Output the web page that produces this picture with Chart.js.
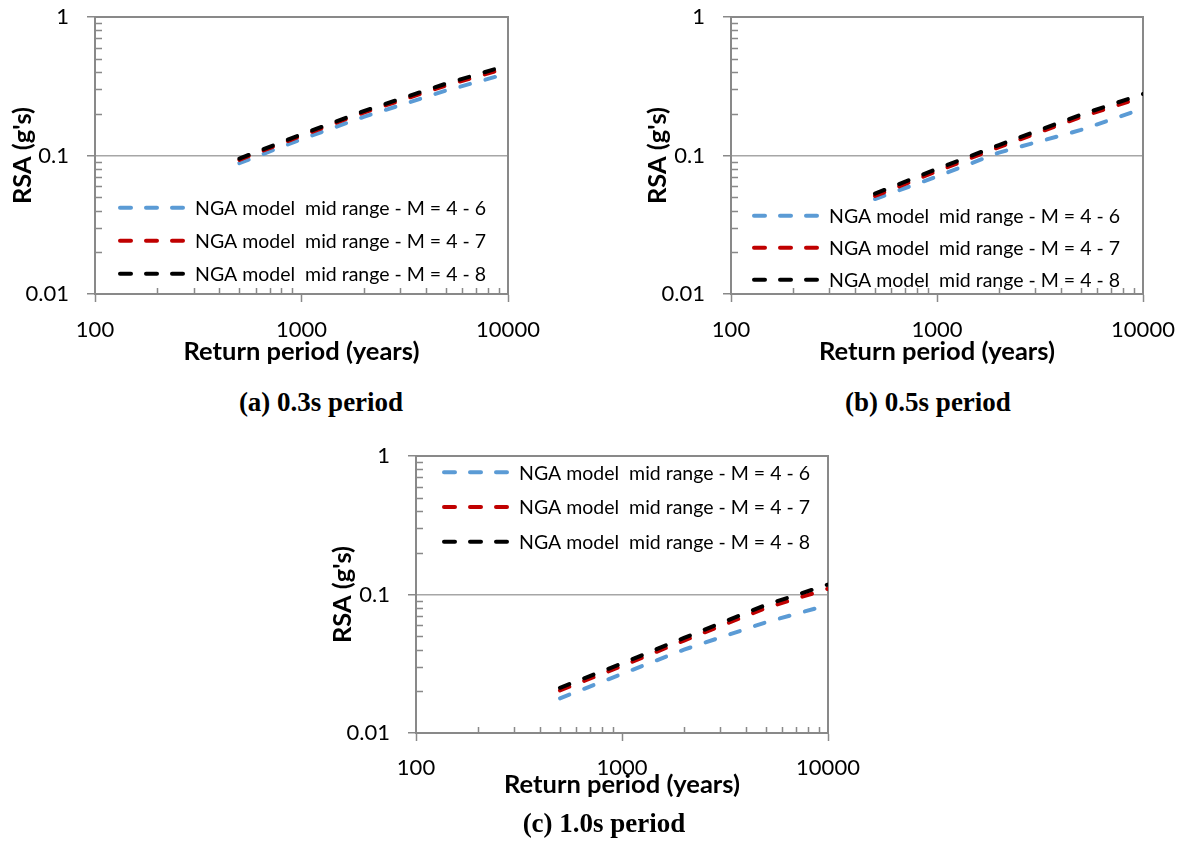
<!DOCTYPE html>
<html>
<head>
<meta charset="utf-8">
<script src="https://cdn.jsdelivr.net/npm/chart.js@4.4.1/dist/chart.umd.min.js"></script>
<style>
  body { margin: 0; background: #fff; width: 1187px; height: 843px; position: relative; overflow: hidden; }
  canvas { position: absolute; }
  .cap { position: absolute; font: bold 27px "Liberation Serif", "Times New Roman", serif; transform: translate(-50%, -50%); white-space: nowrap; }
</style>
</head>
<body>
<canvas id="chartA" width="540" height="370" style="left:0px;top:0px"></canvas>
<canvas id="chartB" width="551" height="370" style="left:636px;top:0px"></canvas>
<canvas id="chartC" width="540" height="370" style="left:321px;top:439px"></canvas>
<div class="cap" style="left:321px;top:402px">(a) 0.3s period</div>
<div class="cap" style="left:928px;top:402px">(b) 0.5s period</div>
<div class="cap" style="left:604px;top:823px">(c) 1.0s period</div>
<script>
// Return periods (years) shared by all three panels
const returnPeriods = [500, 1000, 2000, 5000, 10000];

const seriesLabels = [
  'NGA model  mid range - M = 4 - 6',
  'NGA model  mid range - M = 4 - 7',
  'NGA model  mid range - M = 4 - 8'
];
const seriesColors = ['#5B9BD5', '#C00000', '#000000'];

// (a) 0.3s period, RSA in g's
const rsa03_M6 = [0.088, 0.131, 0.190, 0.294, 0.392];
const rsa03_M7 = [0.093, 0.139, 0.204, 0.320, 0.430];
const rsa03_M8 = [0.095, 0.142, 0.209, 0.330, 0.448];

// (b) 0.5s period
const rsa05_M6 = [0.0485, 0.0705, 0.105, 0.153, 0.218];
const rsa05_M7 = [0.051, 0.077, 0.115, 0.190, 0.264];
const rsa05_M8 = [0.053, 0.080, 0.119, 0.197, 0.278];

// (c) 1.0s period
const rsa10_M6 = [0.0178, 0.0267, 0.040, 0.063, 0.084];
const rsa10_M7 = [0.0203, 0.0305, 0.0465, 0.080, 0.110];
const rsa10_M8 = [0.0212, 0.0318, 0.0486, 0.0841, 0.118];

// tick labels
const xTicks = [100, 1000, 10000];
const yTicks = [0.01, 0.1, 1];

const axisGray = '#898989';
const labelFont = { family: 'Lato', size: 22 };
const titleFont = { family: 'Lato', size: 25.5, weight: 'bold' };

// minor ticks (inside), top/right frame, and the in-plot legend
const plotExtras = {
  id: 'plotExtras',
  beforeDatasetsDraw(chart) {
    const { ctx, chartArea: a, scales: { x, y } } = chart;
    ctx.save();
    ctx.strokeStyle = axisGray;
    ctx.lineWidth = 1.5;
    ctx.beginPath();
    xTicks.slice(0, -1).forEach(d => {
      for (let k = 2; k <= 9; k++) {
        const px = Math.round(x.getPixelForValue(d * k)) + 0.5;
        ctx.moveTo(px, a.bottom);
        ctx.lineTo(px, a.bottom - 6);
      }
    });
    yTicks.slice(0, -1).forEach(d => {
      for (let k = 2; k <= 9; k++) {
        const py = Math.round(y.getPixelForValue(d * k)) + 0.5;
        ctx.moveTo(a.left, py);
        ctx.lineTo(a.left + 7, py);
      }
    });
    ctx.stroke();
    ctx.lineWidth = 2;
    ctx.beginPath();
    ctx.moveTo(a.left, a.top);
    ctx.lineTo(a.right, a.top);
    ctx.lineTo(a.right, a.bottom);
    ctx.stroke();
    ctx.restore();
  },
  afterDatasetsDraw(chart, args, opts) {
    const { ctx, chartArea: a } = chart;
    ctx.save();
    ctx.font = '19.5px Lato';
    ctx.textBaseline = 'middle';
    ctx.fillStyle = '#000';
    chart.data.datasets.forEach((ds, i) => {
      const yy = a.top + opts.top + i * opts.gap;
      const x0 = a.left + opts.left;
      ctx.strokeStyle = ds.borderColor;
      ctx.lineWidth = 4;
      ctx.lineCap = 'round';
      ctx.setLineDash([11, 15]);
      ctx.beginPath();
      ctx.moveTo(x0 + 2, yy);
      ctx.lineTo(x0 + 67, yy);
      ctx.stroke();
      ctx.setLineDash([]);
      ctx.fillText(ds.label, x0 + 77, yy + 1);
    });
    ctx.restore();
  }
};

function makeChart(id, series, g) {
  const ctx = document.getElementById(id).getContext('2d');
  return new Chart(ctx, {
    type: 'line',
    data: {
      datasets: series.map((vals, i) => ({
        label: seriesLabels[i],
        data: returnPeriods.map((t, j) => ({ x: t, y: vals[j] })),
        borderColor: seriesColors[i],
        borderWidth: 4,
        borderDash: [10, 16],
        borderCapStyle: 'round',
        pointRadius: 0,
        fill: false,
        tension: 0,
        order: series.length - 1 - i
      }))
    },
    options: {
      responsive: false,
      animation: false,
      layout: { padding: { left: 0, top: g.top, right: g.right, bottom: 0 } },
      plugins: {
        legend: { display: false },
        tooltip: { enabled: false },
        plotExtras: g.legend
      },
      scales: {
        x: {
          type: 'logarithmic',
          min: 100,
          max: 10000,
          afterBuildTicks: s => { s.ticks = xTicks.map(v => ({ value: v })); },
          afterFit: s => { s.height = 76; s.paddingLeft = 0; s.paddingRight = 0; },
          ticks: { callback: v => String(v), font: labelFont, color: '#000', padding: g.xTickPad, maxRotation: 0, autoSkip: false },
          grid: { drawOnChartArea: false, tickLength: 8, tickColor: axisGray, tickWidth: 1.5 },
          border: { color: axisGray, width: 2 },
          title: { display: true, text: 'Return period (years)', font: titleFont, color: '#000', padding: { top: 0, bottom: g.xTitlePad } }
        },
        y: {
          type: 'logarithmic',
          min: 0.01,
          max: 1,
          afterBuildTicks: s => { s.ticks = yTicks.map(v => ({ value: v })); },
          afterFit: s => { s.width = 95; s.paddingTop = 0; s.paddingBottom = 0; },
          ticks: { callback: v => String(v), font: labelFont, color: '#000', padding: 18 },
          grid: { color: '#a6a6a6', lineWidth: 1.5, tickLength: 8, tickColor: axisGray, tickWidth: 1.5 },
          border: { color: axisGray, width: 2 },
          title: { display: true, text: "RSA (g's)", font: titleFont, color: '#000', padding: { top: g.yTitlePad, bottom: 0 } }
        }
      }
    },
    plugins: [plotExtras]
  });
}

makeChart('chartA', [rsa03_M6, rsa03_M7, rsa03_M8], {
  top: 17, right: 32, xTickPad: 15, xTitlePad: 2.7, yTitlePad: 7.7,
  legend: { left: 23, top: 190.7, gap: 33 }
});
makeChart('chartB', [rsa05_M6, rsa05_M7, rsa05_M8], {
  top: 17, right: 44, xTickPad: 15, xTitlePad: 2.7, yTitlePad: 6.7,
  legend: { left: 21, top: 198.7, gap: 32 }
});
makeChart('chartC', [rsa10_M6, rsa10_M7, rsa10_M8], {
  top: 17, right: 33, xTickPad: 14, xTitlePad: 8.7, yTitlePad: 6.7,
  legend: { left: 26, top: 16.3, gap: 34.7 }
});
</script>
</body>
</html>
